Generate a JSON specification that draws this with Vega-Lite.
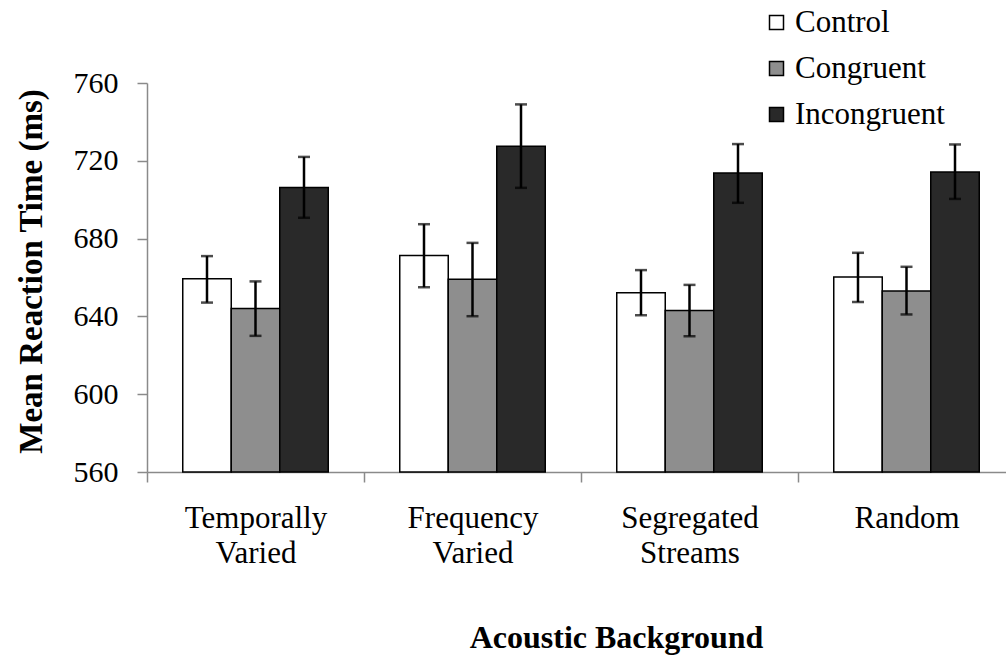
{
  "$schema": "https://vega.github.io/schema/vega-lite/v6.json",
  "autosize": {"type": "none"},
  "padding": {"left": 147, "top": 83, "right": 0, "bottom": 184},
  "width": 859,
  "height": 389,
  "background": "white",
  "config": {
    "view": {"stroke": null},
    "font": "Liberation Serif",
    "axis": {"labelFont": "Liberation Serif", "titleFont": "Liberation Serif"},
    "legend": {"labelFont": "Liberation Serif", "titleFont": "Liberation Serif"}
  },
  "data": {"values": [
    {"background": "Temporally Varied", "condition": "Control", "mean": 659.3, "lo": 647.1, "hi": 671.0},
    {"background": "Temporally Varied", "condition": "Congruent", "mean": 644.0, "lo": 630.0, "hi": 658.0},
    {"background": "Temporally Varied", "condition": "Incongruent", "mean": 706.3, "lo": 690.7, "hi": 722.0},
    {"background": "Frequency Varied", "condition": "Control", "mean": 671.3, "lo": 655.0, "hi": 687.4},
    {"background": "Frequency Varied", "condition": "Congruent", "mean": 659.1, "lo": 640.1, "hi": 677.8},
    {"background": "Frequency Varied", "condition": "Incongruent", "mean": 727.5, "lo": 706.1, "hi": 749.0},
    {"background": "Segregated Streams", "condition": "Control", "mean": 652.1, "lo": 640.6, "hi": 663.8},
    {"background": "Segregated Streams", "condition": "Congruent", "mean": 643.0, "lo": 629.8, "hi": 656.2},
    {"background": "Segregated Streams", "condition": "Incongruent", "mean": 713.7, "lo": 698.4, "hi": 728.6},
    {"background": "Random", "condition": "Control", "mean": 660.3, "lo": 647.4, "hi": 672.7},
    {"background": "Random", "condition": "Congruent", "mean": 653.1, "lo": 641.0, "hi": 665.5},
    {"background": "Random", "condition": "Incongruent", "mean": 714.3, "lo": 700.4, "hi": 728.4}
  ]},
  "encoding": {
    "x": {
      "field": "background", "type": "nominal",
      "sort": ["Temporally Varied", "Frequency Varied", "Segregated Streams", "Random"],
      "scale": {"paddingInner": 0, "paddingOuter": 0, "range": [0, 868]},
      "axis": {
        "title": "Acoustic Background", "labelAngle": 0, "tickBand": "extent",
        "labelExpr": "split(datum.label, ' ')",
        "labelFont": "Liberation Serif", "labelFontSize": 31, "labelLineHeight": 35, "labelPadding": 21, "labelColor": "black",
        "domainColor": "#8a8a8a", "domainWidth": 1.5, "tickColor": "#8a8a8a", "tickWidth": 1.5, "tickSize": 10,
        "titleFont": "Liberation Serif", "titleFontSize": 32, "titleFontWeight": "bold", "titleColor": "black",
        "titleX": 469, "titleY": 175, "titleAlign": "center", "titleBaseline": "alphabetic"
      }
    },
    "xOffset": {
      "field": "condition", "type": "nominal",
      "sort": ["Control", "Congruent", "Incongruent"],
      "scale": {"paddingInner": 0, "paddingOuter": 0.737}
    }
  },
  "layer": [
    {
      "mark": {"type": "bar", "stroke": "black", "strokeWidth": 1.5},
      "encoding": {
        "y": {
          "field": "mean", "type": "quantitative", "title": "Mean Reaction Time (ms)",
          "scale": {"domain": [560, 760], "zero": false, "nice": false},
          "axis": {
            "values": [560, 600, 640, 680, 720, 760], "grid": false,
            "domainColor": "#8a8a8a", "domainWidth": 1.5, "tickColor": "#8a8a8a", "tickWidth": 1.5, "tickSize": 10,
            "labelFont": "Liberation Serif", "labelFontSize": 30, "labelPadding": 19, "labelColor": "black",
            "titleFont": "Liberation Serif", "titleFontSize": 33, "titleFontWeight": "bold", "titleColor": "black",
            "titleX": -116, "titleY": 188, "titleAngle": 270, "titleAlign": "center", "titleBaseline": "middle"
          }
        },
        "y2": {"datum": 560},
        "fill": {
          "field": "condition", "type": "nominal",
          "sort": ["Control", "Congruent", "Incongruent"],
          "scale": {"domain": ["Control", "Congruent", "Incongruent"], "range": ["#ffffff", "#8e8e8e", "#292929"]},
          "legend": {
            "orient": "none", "legendX": 614, "legendY": -76, "title": null, "padding": 0,
            "symbolType": "square", "symbolSize": 196, "symbolStrokeColor": "black", "symbolStrokeWidth": 1.5,
            "labelFont": "Liberation Serif", "labelFontSize": 31, "labelColor": "black", "labelOffset": 3,
            "labelLimit": 400, "rowPadding": 14
          }
        }
      }
    },
    {
      "mark": {"type": "rule", "strokeWidth": 2.5, "color": "black"},
      "encoding": {
        "y": {"field": "lo", "type": "quantitative", "title": "Mean Reaction Time (ms)"},
        "y2": {"field": "hi"}
      }
    },
    {
      "mark": {"type": "tick", "thickness": 2.5, "size": 12, "color": "black", "orient": "horizontal"},
      "encoding": {
        "y": {"field": "lo", "type": "quantitative", "title": "Mean Reaction Time (ms)"}
      }
    },
    {
      "mark": {"type": "tick", "thickness": 2.5, "size": 12, "color": "black", "orient": "horizontal"},
      "encoding": {
        "y": {"field": "hi", "type": "quantitative", "title": "Mean Reaction Time (ms)"}
      }
    }
  ]
}
